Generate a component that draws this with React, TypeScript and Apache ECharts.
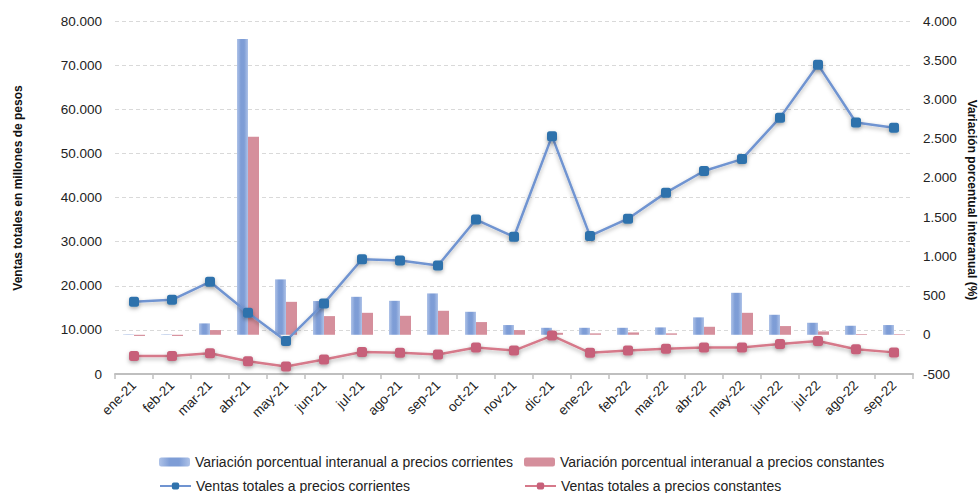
import React, { useEffect, useRef } from "react";
import * as echarts from "echarts";

const categories = [
  "ene-21", "feb-21", "mar-21", "abr-21", "may-21", "jun-21", "jul-21", "ago-21", "sep-21", "oct-21", "nov-21", "dic-21",
  "ene-22", "feb-22", "mar-22", "abr-22", "may-22", "jun-22", "jul-22", "ago-22", "sep-22",
];

// Variación porcentual interanual (%) - right axis
const varCorrientes = [5, 5, 145, 3770, 706, 430, 484, 433, 527, 293, 124, 89, 89, 89, 94, 222, 535, 255, 153, 115, 124];
const varConstantes = [-15, -15, 60, 2523, 420, 238, 280, 242, 306, 162, 60, 25, 18, 30, 18, 102, 280, 111, 43, 9, 8];

// Ventas totales en millones de pesos - left axis
const ventasCorrientes = [16400, 16800, 20900, 13900, 7500, 16000, 26000, 25700, 24600, 35000, 31100, 53900, 31300, 35200, 41100, 46000, 48700, 58100, 70100, 57000, 55800];
const ventasConstantes = [4100, 4100, 4700, 2900, 1700, 3300, 5000, 4800, 4400, 6000, 5300, 8700, 4800, 5300, 5700, 6000, 6000, 6800, 7500, 5600, 4900];

const leftTicks = { min: 0, max: 80000, interval: 10000 };
const rightTicks = { min: -500, max: 4000, interval: 500 };

const leftTitle = "Ventas totales en millones de pesos";
const rightTitle = "Variación porcentual interanual (%)";

const seriesNames = {
  barCorr: "Variación porcentual interanual a precios corrientes",
  barCons: "Variación porcentual interanual a precios constantes",
  lineCorr: "Ventas totales a precios corrientes",
  lineCons: "Ventas totales a precios constantes",
};

const fmt = (v: number) => String(v).replace(/\B(?=(\d{3})+(?!\d))/g, ".");

const FONT = "'Liberation Sans', Arial, sans-serif";

export default function App() {
  const ref = useRef<HTMLDivElement>(null);
  useEffect(() => {
    if (!ref.current) return;
    const chart = echarts.init(ref.current, null, { renderer: "svg" });
    const lineShadow = { shadowBlur: 4, shadowColor: "rgba(0,0,0,0.3)", shadowOffsetY: 2 };
    const legendItem = (name: string, left: number, top: number) => ({
      orient: "horizontal",
      left,
      top,
      padding: 0,
      itemWidth: 31,
      itemHeight: 9,
      data: [name],
      textStyle: { fontFamily: FONT, fontSize: 14, color: "#222" },
    });
    chart.setOption({
      animation: false,
      backgroundColor: "#ffffff",
      textStyle: { fontFamily: FONT },
      grid: { left: 115, right: 67, top: 21, bottom: 119, containLabel: false },
      graphic: [
        {
          type: "text",
          x: 18,
          y: 188,
          rotation: Math.PI / 2,
          style: { text: leftTitle, font: `bold 12px ${FONT}`, fill: "#111", align: "center", verticalAlign: "middle" },
        },
        {
          type: "text",
          x: 972,
          y: 200,
          rotation: -Math.PI / 2,
          style: { text: rightTitle, font: `bold 12px ${FONT}`, fill: "#111", align: "center", verticalAlign: "middle" },
        },
      ],
      legend: [
        legendItem(seriesNames.barCorr, 159, 455),
        legendItem(seriesNames.lineCorr, 159, 479),
        legendItem(seriesNames.barCons, 524, 455),
        legendItem(seriesNames.lineCons, 524, 479),
      ],
      xAxis: {
        type: "category",
        data: categories,
        boundaryGap: true,
        axisLine: { lineStyle: { color: "#BFBFBF", width: 2 } },
        axisTick: { show: true, length: 5, lineStyle: { color: "#BFBFBF", width: 1.5 } },
        axisLabel: { rotate: 45, interval: 0, fontSize: 13.5, color: "#222", fontFamily: FONT, margin: 9 },
      },
      yAxis: [
        {
          type: "value",
          ...leftTicks,
          axisLine: { show: false },
          axisTick: { show: false },
          axisLabel: { fontSize: 13.5, color: "#222", fontFamily: FONT, margin: 13, formatter: (v: number) => fmt(v) },
          splitLine: { show: true, lineStyle: { color: "#D9D9D9", type: [4, 3], width: 1 } },
        },
        {
          type: "value",
          ...rightTicks,
          axisLine: { show: false },
          axisTick: { show: false },
          axisLabel: { fontSize: 13.5, color: "#222", fontFamily: FONT, margin: 10, formatter: (v: number) => fmt(v) },
          splitLine: { show: false },
        },
      ],
      series: [
        {
          name: seriesNames.barCorr,
          type: "bar",
          yAxisIndex: 1,
          data: varCorrientes,
          barWidth: 11,
          barGap: "0%",
          z: 1,
          itemStyle: {
            color: new echarts.graphic.LinearGradient(0, 0, 1, 0, [
              { offset: 0, color: "#AFC3E8" },
              { offset: 0.35, color: "#7E9DD6" },
              { offset: 0.65, color: "#7E9DD6" },
              { offset: 1, color: "#AFC3E8" },
            ]),
          },
        },
        {
          name: seriesNames.barCons,
          type: "bar",
          yAxisIndex: 1,
          data: varConstantes,
          barWidth: 11,
          barGap: "0%",
          z: 1,
          itemStyle: { color: "#D58F9C" },
        },
        {
          name: seriesNames.lineCorr,
          type: "line",
          yAxisIndex: 0,
          data: ventasCorrientes,
          symbol: "roundRect",
          symbolSize: 10,
          z: 3,
          lineStyle: { color: "#7094D1", width: 2.5, ...lineShadow },
          itemStyle: { color: "#2F72AC", ...lineShadow },
        },
        {
          name: seriesNames.lineCons,
          type: "line",
          yAxisIndex: 0,
          data: ventasConstantes,
          symbol: "roundRect",
          symbolSize: 10,
          z: 3,
          lineStyle: { color: "#D6798A", width: 2.5, ...lineShadow },
          itemStyle: { color: "#C7607A", ...lineShadow },
        },
      ],
    });
    return () => chart.dispose();
  }, []);
  return (
    <div
      ref={ref}
      style={{ position: "fixed", left: 0, top: 0, width: 980, height: 493, background: "#fff" }}
    />
  );
}
